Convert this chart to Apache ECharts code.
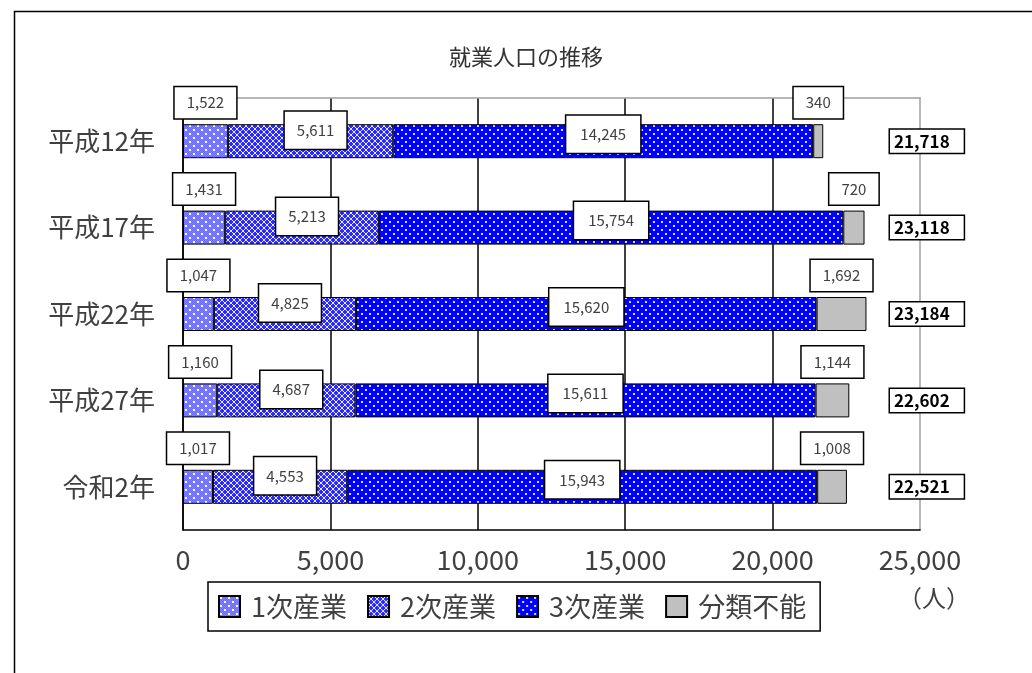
<!DOCTYPE html>
<html><head><meta charset="utf-8">
<script src="https://cdn.jsdelivr.net/npm/echarts@6/dist/echarts.min.js"></script>
<style>html,body{margin:0;padding:0;background:#fff}#c{width:1032px;height:673px}</style>
</head><body><div id="c"></div>
<script>
const categories = ['平成12年','平成17年','平成22年','平成27年','令和2年'];
const seriesNames = ['1次産業','2次産業','3次産業','分類不能'];
const primary = [1522, 1431, 1047, 1160, 1017];
const secondary = [5611, 5213, 4825, 4687, 4553];
const tertiary = [14245, 15754, 15620, 15611, 15943];
const unclassified = [340, 720, 1692, 1144, 1008];
const totals = [21718, 23118, 23184, 22602, 22521];
const xTicks = [0, 5000, 10000, 15000, 20000, 25000];

const FONT = '"Noto Sans CJK JP", "Noto Sans", sans-serif';
const fmt = v => Number(v).toLocaleString('en-US');

function pattern(w, h, draw) {
  const c = document.createElement('canvas');
  c.width = w; c.height = h;
  const g = c.getContext('2d');
  draw(g, w, h);
  return { image: c, repeat: 'repeat' };
}
const pat1 = pattern(8, 8, (g) => {
  g.fillStyle = '#8282ff'; g.fillRect(0, 0, 8, 8);
  for (let y = 0; y < 8; y++) for (let x = 0; x < 8; x++) if ((x + y) % 2 === 0) { g.fillStyle = '#6c6cfa'; g.fillRect(x, y, 1, 1); }
  g.fillStyle = '#ffffff'; g.fillRect(1, 1, 2, 2); g.fillRect(5, 5, 2, 2);
});
const pat2 = pattern(6, 6, (g) => {
  g.fillStyle = '#2a2aff'; g.fillRect(0, 0, 6, 6);
  g.fillStyle = '#e8e8ff';
  for (let i = 0; i < 6; i++) { g.fillRect(i, i, 1, 1); g.fillRect(5 - i, i, 1, 1); }
});
const pat3 = pattern(8, 8, (g) => {
  g.fillStyle = '#0000ff'; g.fillRect(0, 0, 8, 8);
  g.fillStyle = '#d8d8ff'; g.fillRect(1, 1, 2, 2); g.fillRect(5, 5, 2, 2);
});

const boxLabel = (pad) => ({
  show: true,
  formatter: p => fmt(p.value),
  fontFamily: FONT, fontSize: 15, color: '#404040',
  backgroundColor: '#ffffff', borderColor: '#000000', borderWidth: 1.5,
  padding: pad
});

function barSeries(name, data, color, label) {
  return {
    name, type: 'bar', stack: 'total', data, barWidth: 34,
    itemStyle: { color, borderColor: '#000', borderWidth: 1 },
    label, emphasis: { disabled: true }, z: 2
  };
}

const chart = echarts.init(document.getElementById('c'), null, { renderer: 'canvas' });
chart.setOption({
  animation: false,
  backgroundColor: '#ffffff',
  title: {
    text: '就業人口の推移', left: 521, top: 41, textAlign: 'center',
    textStyle: { fontFamily: FONT, fontSize: 22, fontWeight: 'normal', color: '#333' }
  },
  grid: { left: 183, right: 112, top: 98, bottom: 143 },
  legend: {
    left: 208, top: 582,
    data: seriesNames,
    formatter: n => ' ' + n,
    icon: 'rect', itemWidth: 21, itemHeight: 21, itemGap: 20,
    borderColor: '#000', borderWidth: 1.5, padding: [11, 14, 11, 10],
    textStyle: { fontFamily: FONT, fontSize: 27, color: '#404040' }
  },
  xAxis: [{
    type: 'value', min: xTicks[0], max: xTicks[xTicks.length - 1], interval: 5000,
    axisLine: { show: true, lineStyle: { color: '#000', width: 1.5 } },
    axisTick: { show: false },
    axisLabel: { formatter: v => fmt(v), fontFamily: FONT, fontSize: 27, color: '#404040', margin: 16 },
    splitLine: { show: true, showMaxLine: false, lineStyle: { color: '#000', width: 1.5 } }
  }, {
    type: 'value', position: 'top', min: xTicks[0], max: xTicks[xTicks.length - 1],
    axisLine: { show: true, onZero: false, lineStyle: { color: '#a0a0a0', width: 1.5 } },
    axisTick: { show: false }, axisLabel: { show: false }, splitLine: { show: false }
  }],
  yAxis: [{
    type: 'category', data: categories, inverse: true,
    axisLine: { show: true, lineStyle: { color: '#000', width: 1.5 } },
    axisTick: { show: false },
    axisLabel: { fontFamily: FONT, fontSize: 26, color: '#404040', margin: 28 }
  }, {
    type: 'category', data: categories, inverse: true, position: 'right',
    axisLine: { show: true, onZero: false, lineStyle: { color: '#a0a0a0', width: 1.5 } },
    axisTick: { show: false },
    axisLabel: {
      formatter: (v, i) => fmt(totals[i]), margin: -30,
      fontFamily: FONT, fontSize: 17, fontWeight: 'bold', color: '#000',
      backgroundColor: '#fff', borderColor: '#000', borderWidth: 1.5,
      padding: [3, 14, 3, 4]
    }
  }],
  series: [
    barSeries(seriesNames[0], primary, pat1, Object.assign(boxLabel([8, 12]), { position: 'top', distance: 6 })),
    barSeries(seriesNames[1], secondary, pat2, Object.assign(boxLabel([11, 12]), { position: 'inside', offset: [5, -11] })),
    barSeries(seriesNames[2], tertiary, pat3, Object.assign(boxLabel([11, 14]), { position: 'inside', offset: [0, -7] })),
    barSeries(seriesNames[3], unclassified, '#c0c0c0', Object.assign(boxLabel([8, 12]), { position: 'top', distance: 6 }))
  ],
  graphic: [
    { type: 'rect', left: 12, top: 9, shape: { width: 1040, height: 680 }, style: { fill: 'none', stroke: '#000', lineWidth: 1.5 }, silent: true, z: 0 },
    { type: 'text', left: 898, top: 586, style: { text: '（人）', fontFamily: FONT, fontSize: 24, fill: '#404040' } }
  ]
});
</script></body></html>
